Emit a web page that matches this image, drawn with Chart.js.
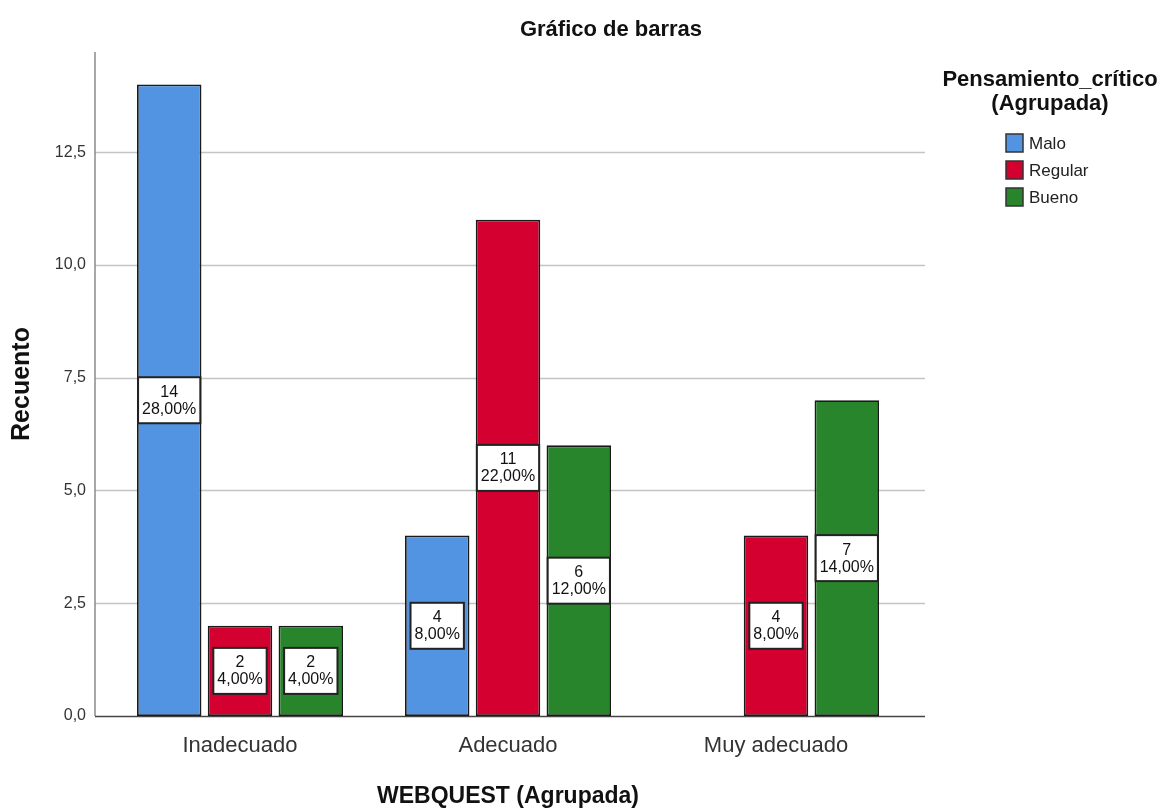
<!DOCTYPE html>
<html>
<head>
<meta charset="utf-8">
<script src="https://cdn.jsdelivr.net/npm/chart.js@4"></script>
<style>
  html, body { margin: 0; padding: 0; background: #fff; }
  #wrap { width: 1167px; height: 810px; }
</style>
</head>
<body>
<div id="wrap"><canvas id="barChart" width="1167" height="810"></canvas></div>
<script>
const categories = ['Inadecuado', 'Adecuado', 'Muy adecuado'];
const malo = [14, 4, null];
const regular = [2, 11, 4];
const bueno = [2, 6, 7];
const yTicks = [0, 2.5, 5, 7.5, 10, 12.5];

const total = [...malo, ...regular, ...bueno].reduce((s, v) => s + (v || 0), 0);
const SANS = '"Liberation Sans", Arial, sans-serif';

function fmtComma(v, d) {
    return v.toFixed(d).replace('.', ',');
}

// gridlines + axis lines, a bit wider than the bar area like SPSS draws them
const gridPlugin = {
    id: 'spssGrid',
    beforeDatasetsDraw(chart) {
        const { ctx, chartArea } = chart;
        const y = chart.scales.y;
        const left = chartArea.left - 11;
        const right = chartArea.right + 15;
        ctx.save();
        ctx.lineWidth = 1.5;
        ctx.strokeStyle = '#c4c4c4';
        yTicks.forEach(t => {
            if (t === 0) return;
            const py = Math.round(y.getPixelForValue(t)) + 0.5;
            ctx.beginPath();
            ctx.moveTo(left, py);
            ctx.lineTo(right, py);
            ctx.stroke();
        });
        ctx.strokeStyle = '#8a8a8a';
        ctx.beginPath();
        ctx.moveTo(left, chartArea.top);
        ctx.lineTo(left, y.getPixelForValue(0));
        ctx.stroke();
        ctx.strokeStyle = '#444';
        const zy = Math.round(y.getPixelForValue(0)) + 0.5;
        ctx.beginPath();
        ctx.moveTo(left, zy);
        ctx.lineTo(right, zy);
        ctx.stroke();
        ctx.restore();
    }
};

// count + percentage boxes in the middle of each bar
const labelPlugin = {
    id: 'barLabels',
    afterDatasetsDraw(chart) {
        const { ctx } = chart;
        ctx.save();
        ctx.font = '16px ' + SANS;
        ctx.textAlign = 'center';
        ctx.textBaseline = 'middle';
        chart.data.datasets.forEach((ds, i) => {
            chart.getDatasetMeta(i).data.forEach((el, j) => {
                const v = ds.data[j];
                if (v == null) return;
                const l1 = String(v);
                const l2 = fmtComma(v / total * 100, 2) + '%';
                const w = Math.max(ctx.measureText(l1).width, ctx.measureText(l2).width) + 8;
                const h = 46;
                const cx = el.x;
                const cy = (el.y + el.base) / 2;
                ctx.fillStyle = '#fff';
                ctx.fillRect(cx - w / 2, cy - h / 2, w, h);
                ctx.lineWidth = 2;
                ctx.strokeStyle = '#222';
                ctx.strokeRect(cx - w / 2, cy - h / 2, w, h);
                ctx.fillStyle = '#111';
                ctx.fillText(l1, cx, cy - 8);
                ctx.fillText(l2, cx, cy + 9);
            });
        });
        ctx.restore();
    }
};

// title and legend placed where SPSS puts them
const decorPlugin = {
    id: 'decor',
    afterDraw(chart) {
        const { ctx } = chart;
        ctx.save();
        ctx.fillStyle = '#111';
        ctx.textAlign = 'center';
        ctx.textBaseline = 'middle';
        ctx.font = 'bold 22px ' + SANS;
        ctx.fillText('Gráfico de barras', 611, 30);

        ctx.font = 'bold 22px ' + SANS;
        ctx.fillText('Pensamiento_crítico', 1050, 80);
        ctx.fillText('(Agrupada)', 1050, 104);

        ctx.textAlign = 'left';
        ctx.font = '17px ' + SANS;
        chart.data.datasets.forEach((ds, i) => {
            const by = 134 + i * 27;
            ctx.fillStyle = ds.backgroundColor;
            ctx.fillRect(1006, by, 17, 18);
            ctx.lineWidth = 1.5;
            ctx.strokeStyle = '#333';
            ctx.strokeRect(1006, by, 17, 18);
            ctx.fillStyle = '#222';
            ctx.fillText(ds.label, 1029, by + 10);
        });
        ctx.restore();
    }
};

const ctx = document.getElementById('barChart').getContext('2d');
new Chart(ctx, {
    type: 'bar',
    data: {
        labels: categories,
        datasets: [
            { label: 'Malo', data: malo, backgroundColor: 'rgb(82,148,226)' },
            { label: 'Regular', data: regular, backgroundColor: 'rgb(212,0,47)' },
            { label: 'Bueno', data: bueno, backgroundColor: 'rgb(41,133,43)' }
        ]
    },
    options: {
        responsive: false,
        animation: false,
        layout: { padding: { left: 0, right: 257, top: 52, bottom: 0 } },
        datasets: {
            bar: {
                categoryPercentage: 0.7925,
                barPercentage: 0.911,
                borderColor: '#1a1a1a',
                borderWidth: 1.8,
                borderSkipped: false
            }
        },
        plugins: {
            legend: { display: false },
            title: { display: false },
            tooltip: { enabled: false }
        },
        scales: {
            x: {
                grid: { display: false, drawTicks: false },
                border: { display: false },
                ticks: { color: '#333', font: { family: SANS, size: 22 }, padding: 17 },
                title: {
                    display: true,
                    text: 'WEBQUEST (Agrupada)',
                    color: '#111',
                    font: { family: SANS, size: 23, weight: 'bold' },
                    padding: { top: 0, bottom: 0 }
                },
                afterFit(scale) { scale.height = 94; }
            },
            y: {
                min: 0,
                max: 14.72,
                grid: { display: false, drawTicks: false },
                border: { display: false },
                afterBuildTicks(scale) {
                    scale.ticks = yTicks.map(v => ({ value: v }));
                },
                ticks: {
                    color: '#333',
                    font: { family: SANS, size: 16 },
                    padding: 20,
                    callback: v => fmtComma(v, 1)
                },
                title: {
                    display: true,
                    text: 'Recuento',
                    color: '#111',
                    font: { family: SANS, size: 25, weight: 'bold' },
                    padding: { top: 7, bottom: 0 }
                },
                afterFit(scale) { scale.width = 106; }
            }
        }
    },
    plugins: [gridPlugin, labelPlugin, decorPlugin]
});
</script>
</body>
</html>
